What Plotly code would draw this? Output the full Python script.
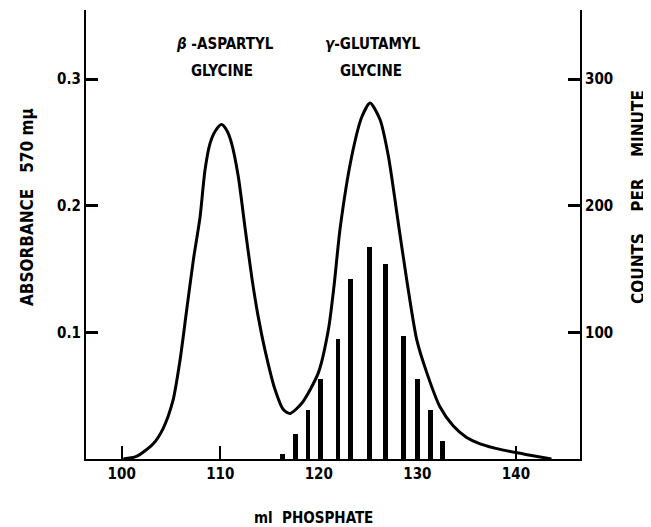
import plotly.graph_objects as go

# Absorbance curve (ml phosphate, absorbance at 570 mμ)
curve_ml = [100.16, 101.5, 103.2, 104.2, 105.2, 105.92, 106.6, 107.27, 107.95, 108.45, 108.96,
            109.5, 110.13, 110.7, 111.16, 111.83, 112.51, 113.19, 113.86, 114.54, 115.55, 116.4,
            117.08, 118.27, 119.95, 120.97, 121.55, 122.16, 123.34, 124.36, 125.2, 126.21,
            127.06, 128.07, 128.93, 129.94, 130.96, 132.3, 133.65, 135.0, 136.36, 138.73,
            141.44, 143.6]
curve_abs = [0.0, 0.002, 0.012, 0.024, 0.046, 0.078, 0.118, 0.157, 0.191, 0.228, 0.249,
             0.259, 0.264, 0.259, 0.249, 0.223, 0.183, 0.144, 0.112, 0.086, 0.055, 0.039,
             0.036, 0.044, 0.068, 0.102, 0.137, 0.182, 0.239, 0.270, 0.281, 0.268,
             0.239, 0.186, 0.141, 0.094, 0.068, 0.041, 0.026, 0.017, 0.012, 0.007,
             0.003, 0.0]

# Radioactivity (counts per minute)
bar_ml = [116.3, 117.6, 118.9, 120.15, 121.95, 123.25, 125.15, 126.75, 128.6, 130.05, 131.3, 132.55]
bar_cpm = [4, 20, 39, 63, 95, 142, 167, 154, 97, 63, 39, 14]

x_ticks = [100, 110, 120, 130, 140]
y_ticks = [0.1, 0.2, 0.3]
y_ticktext = ["0.1", "0.2", "0.3"]
y2_ticks = [100, 200, 300]

FONT = "DejaVu Sans Condensed, Liberation Sans Narrow, DejaVu Sans, sans-serif"

# the page body adds an 8 px margin on the top and left
OFF = 8
W, H = 651 - OFF, 527 - OFF
ML, MR, MT, MB = 86 - OFF, 71, 10 - OFF, 68
PW, PH = W - ML - MR, H - MT - MB


def px(x):
    return (x - OFF - ML) / PW


def py(y):
    return 1 - (y - OFF - MT) / PH


fig = go.Figure()
fig.add_trace(go.Bar(x=bar_ml, y=bar_cpm, yaxis="y2", width=0.5,
                     marker=dict(color="black", line=dict(width=0)), showlegend=False))
fig.add_trace(go.Scatter(x=curve_ml, y=curve_abs, mode="lines",
                         line=dict(color="black", width=3, shape="spline", smoothing=0.7),
                         showlegend=False))

tickfont = dict(family=FONT, size=15, color="black", weight="bold")
axis_common = dict(showgrid=False, zeroline=False, showline=True, linecolor="black",
                   linewidth=2, ticks="inside", tickcolor="black", tickwidth=3, ticklen=12,
                   tickfont=tickfont, automargin=False)

fig.update_layout(
    width=W, height=H,
    margin=dict(l=ML, r=MR, t=MT, b=MB),
    paper_bgcolor="white", plot_bgcolor="white",
    bargap=0,
    font=dict(family=FONT, color="black"),
    xaxis=dict(range=[96.38, 146.5], tickvals=x_ticks,
               **{**axis_common, "ticklen": 13, "tickwidth": 2}),
    yaxis=dict(range=[0, 0.3545], tickvals=y_ticks, ticktext=y_ticktext, **axis_common),
    yaxis2=dict(range=[0, 354.5], tickvals=y2_ticks, overlaying="y", side="right", **axis_common),
)

ann_font = dict(family=FONT, size=15, color="black", weight="bold")
side_font = dict(family=FONT, size=17, color="black", weight="bold")
labels = [
    ("<i>β</i> -ASPARTYL", 225, 44, 0, ann_font),
    ("GLYCINE", 222, 71, 0, ann_font),
    ("<i>γ</i>-GLUTAMYL", 373, 44, 0, ann_font),
    ("GLYCINE", 371, 71, 0, ann_font),
    ("ABSORBANCE   570 mμ", 27, 207, -90, side_font),
    ("COUNTS    PER    MINUTE", 638, 197, -90, side_font),
    ("ml  PHOSPHATE", 313, 518, 0, ann_font),
]
for text, x, y, ang, f in labels:
    fig.add_annotation(x=px(x), y=py(y), xref="paper", yref="paper", showarrow=False,
                       xanchor="center", yanchor="middle", textangle=ang,
                       text=text, font=f)

fig.write_html("out.html")
